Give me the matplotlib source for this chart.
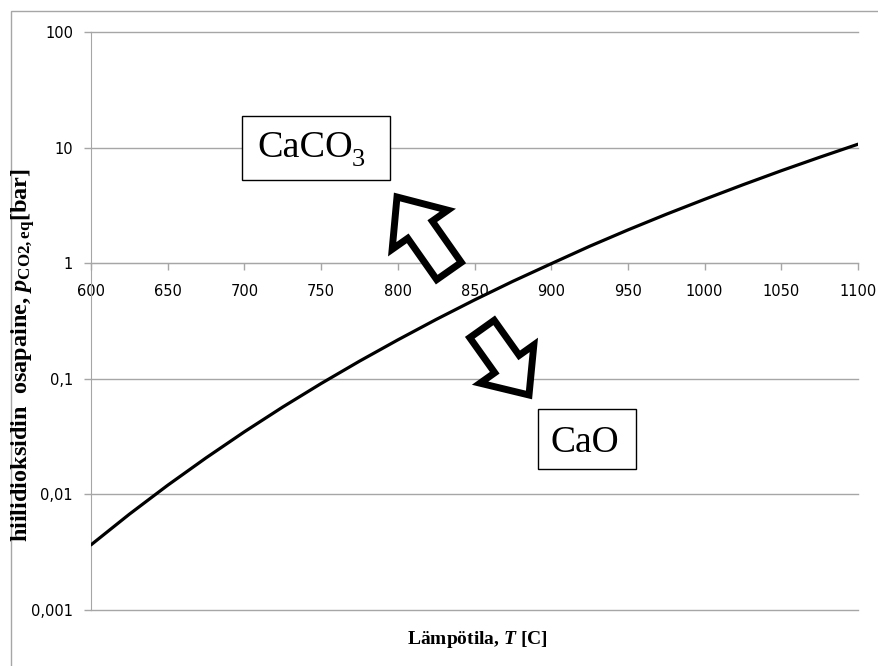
import numpy as np
import matplotlib
matplotlib.use("Agg")
import matplotlib.pyplot as plt
from matplotlib.patches import Polygon, Rectangle

plt.rcParams["mathtext.fontset"] = "custom"
plt.rcParams["mathtext.rm"] = "Liberation Serif:bold"
plt.rcParams["mathtext.it"] = "Liberation Serif:italic:bold"
plt.rcParams["mathtext.bf"] = "Liberation Serif:bold"

# equilibrium CO2 pressure over CaCO3 / CaO
temp_c = [600, 625, 650, 675, 700, 725, 750, 775, 800, 825, 850,
          875, 900, 925, 950, 975, 1000, 1025, 1050, 1075, 1100]
p_co2 = [0.00366, 0.00674, 0.0120, 0.0207, 0.0348, 0.0570, 0.091, 0.142,
         0.217, 0.326, 0.481, 0.697, 0.99, 1.40, 1.94, 2.65, 3.57, 4.77,
         6.31, 8.25, 10.7]

x_ticks = [600, 650, 700, 750, 800, 850, 900, 950, 1000, 1050, 1100]
y_ticks = [0.001, 0.01, 0.1, 1, 10, 100]
y_labels = ["0,001", "0,01", "0,1", "1", "10", "100"]

W, H = 879, 666
GRID = "#a6a6a6"

fig = plt.figure(figsize=(W / 100, H / 100), dpi=100)
ax = fig.add_axes([91 / W, 1 - 610 / H, (858 - 91) / W, (610 - 32) / H])

ax.plot(temp_c, p_co2, color="k", lw=2.3, solid_capstyle="round", zorder=3)

ax.set_yscale("log")
ax.set_ylim(0.001, 100)
ax.set_xlim(600, 1100)
ax.set_yticks(y_ticks)
ax.set_yticklabels(y_labels)
ax.minorticks_off()
ax.set_xticks(x_ticks)
ax.grid(axis="y", color=GRID, lw=1.0)
for gl in ax.get_ygridlines():
    gl.set_clip_on(False)
ax.set_axisbelow(True)

for s in ("top", "right"):
    ax.spines[s].set_visible(False)
ax.spines["left"].set_color(GRID)
ax.spines["bottom"].set_color(GRID)
ax.spines["bottom"].set_position(("data", 1))
ax.tick_params(axis="both", colors=GRID, length=5, width=1.0,
               labelcolor="k", labelsize=10.5)
ax.tick_params(axis="x", pad=10)
ax.tick_params(axis="y", pad=8)

fig.text(477 / W, 1 - 640 / H, "Lämpötila, $T$ [C]", ha="center", va="center",
         family="Liberation Serif", weight="bold", fontsize=14)
fig.text(23 / W, 1 - 355 / H,
         r"hiilidioksidin  osapaine, $p_{\mathrm{CO2,eq}}$[bar]",
         rotation=90, ha="center", va="center",
         family="Liberation Serif", weight="bold", fontsize=17.5)

# phase boxes
for x0, y0, x1, y1 in [(242, 116, 390, 180), (538, 409, 636, 469)]:
    fig.patches.append(Rectangle((x0 / W, 1 - y1 / H), (x1 - x0) / W,
                                 (y1 - y0) / H, transform=fig.transFigure,
                                 fc="w", ec="k", lw=1.0, zorder=5))

serif = dict(family="Liberation Serif", va="baseline", ha="left", zorder=6)
fig.text(257 / W, 1 - 157 / H, "CaCO", fontsize=27.5, **serif)
fig.text(352 / W, 1 - 166 / H, "3", fontsize=19, **serif)
fig.text(551 / W, 1 - 452 / H, "CaO", fontsize=27, **serif)


def block_arrow(tail, tip, shaft_w, head_w, head_l):
    """Hollow block arrow in pixel coordinates (y downwards)."""
    tail = np.array(tail, float)
    tip = np.array(tip, float)
    d = tip - tail
    u = d / np.hypot(*d)
    n = np.array([-u[1], u[0]])
    base = tip - u * head_l
    pts = [tail + n * shaft_w / 2, base + n * shaft_w / 2, base + n * head_w / 2,
           tip, base - n * head_w / 2, base - n * shaft_w / 2,
           tail - n * shaft_w / 2]
    pts = np.array([[p[0] / W, 1 - p[1] / H] for p in pts])
    fig.patches.append(Polygon(pts, closed=True, transform=fig.transFigure,
                               fc="w", ec="k", lw=5.0, joinstyle="miter",
                               zorder=5))


block_arrow((449, 271), (397, 197), 30, 68, 40)
block_arrow((482, 329), (529, 395), 30, 66, 38)

# chart frame
fig.patches.append(Rectangle((11 / W, -0.1), 1.2, 1.1 - 11 / H,
                             transform=fig.transFigure, fc="none",
                             ec=GRID, lw=1.0, zorder=0))

fig.savefig("out.png", dpi=100)
